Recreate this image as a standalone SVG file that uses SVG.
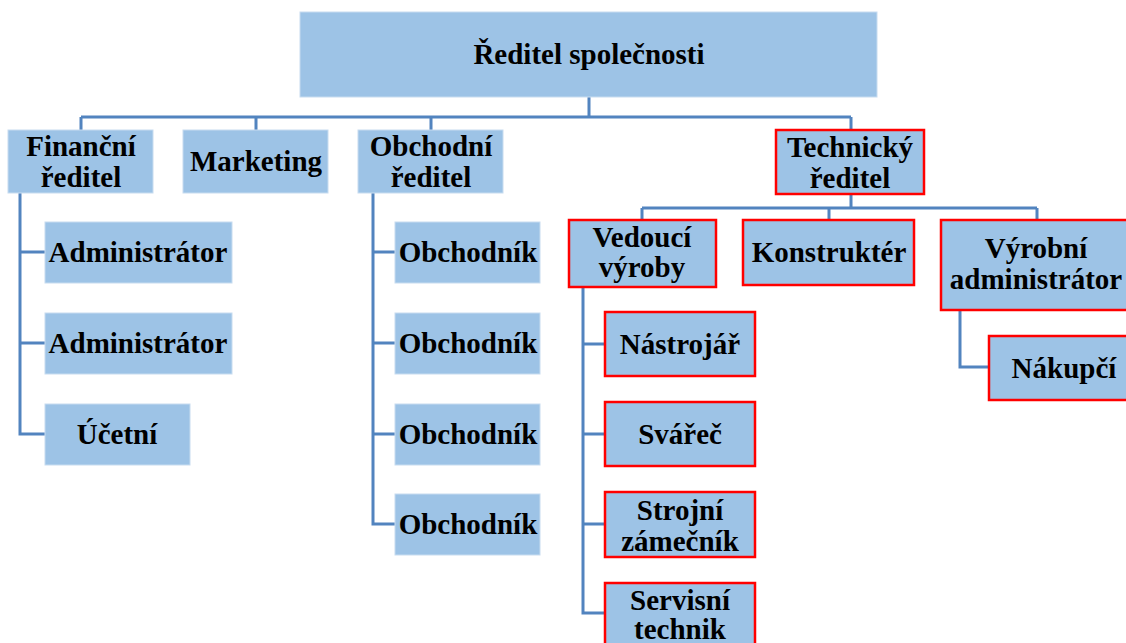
<svg xmlns="http://www.w3.org/2000/svg" width="1126" height="643" viewBox="0 0 1126 643">
<style>
.box{fill:#9dc3e6;stroke:#c7dcf0;stroke-width:1}
.rbox{fill:#9dc3e6;stroke:#ff0000;stroke-width:2.5}
text{font-family:'Liberation Serif','DejaVu Serif',serif;font-weight:bold;font-size:29px;fill:#000;text-anchor:middle}
.c{fill:none;stroke:#5284bf;stroke-width:3}
</style>
<rect width="1126" height="643" fill="#fff"/>
<g id="connectors">
<path class="c" d="M589 97V117M81 117H851M81 117V130M256 117V130M431 117V130M851 117V130"/>
<path class="c" d="M20 193V434H45M20 252H45M20 343H45"/>
<path class="c" d="M373 193V524H395M373 252H395M373 343H395M373 434H395"/>
<path class="c" d="M851 194V208M642 208H1037M642 208V220M829 208V220M1037 208V220"/>
<path class="c" d="M583 287V613H605M583 344H605M583 434H605M583 524H605"/>
<path class="c" d="M960 310V367H989"/>
</g>
<g id="n-reditel"><rect class="box" x="300" y="12" width="577" height="85"/><text x="589" y="64">Ředitel společnosti</text></g>
<g id="n-financni"><rect class="box" x="8" y="130" width="145" height="63"/><text x="81" y="156">Finanční</text><text x="81" y="187">ředitel</text></g>
<g id="n-marketing"><rect class="box" x="183" y="130" width="145" height="63"/><text x="256" y="171">Marketing</text></g>
<g id="n-obchodni"><rect class="box" x="358" y="130" width="145" height="63"/><text x="431" y="156">Obchodní</text><text x="431" y="187">ředitel</text></g>
<g id="n-technicky"><rect class="rbox" x="776" y="130" width="148" height="64"/><text x="850" y="157">Technický</text><text x="850" y="188">ředitel</text></g>
<g id="n-admin1"><rect class="box" x="45" y="222" width="187" height="61"/><text x="138" y="262">Administrátor</text></g>
<g id="n-admin2"><rect class="box" x="45" y="313" width="187" height="61"/><text x="138" y="353">Administrátor</text></g>
<g id="n-ucetni"><rect class="box" x="45" y="404" width="145" height="61"/><text x="117" y="444">Účetní</text></g>
<g id="n-obch1"><rect class="box" x="395" y="222" width="145" height="61"/><text x="468" y="262">Obchodník</text></g>
<g id="n-obch2"><rect class="box" x="395" y="313" width="145" height="61"/><text x="468" y="353">Obchodník</text></g>
<g id="n-obch3"><rect class="box" x="395" y="404" width="145" height="61"/><text x="468" y="444">Obchodník</text></g>
<g id="n-obch4"><rect class="box" x="395" y="494" width="145" height="61"/><text x="468" y="534">Obchodník</text></g>
<g id="n-vedouci"><rect class="rbox" x="569" y="220" width="147" height="67"/><text x="642" y="247">Vedoucí</text><text x="642" y="277">výroby</text></g>
<g id="n-konstrukter"><rect class="rbox" x="743" y="220" width="171" height="65"/><text x="829" y="262">Konstruktér</text></g>
<g id="n-vyrobni"><rect class="rbox" x="941" y="220" width="187" height="90"/><text x="1036" y="258">Výrobní</text><text x="1036" y="289">administrátor</text></g>
<g id="n-nastrojar"><rect class="rbox" x="605" y="312" width="150" height="64"/><text x="680" y="354">Nástrojář</text></g>
<g id="n-svarec"><rect class="rbox" x="605" y="402" width="150" height="64"/><text x="680" y="444">Svářeč</text></g>
<g id="n-strojni"><rect class="rbox" x="605" y="492" width="150" height="65"/><text x="680" y="520">Strojní</text><text x="680" y="551">zámečník</text></g>
<g id="n-servisni"><rect class="rbox" x="605" y="583" width="150" height="66"/><text x="680" y="610">Servisní</text><text x="680" y="639">technik</text></g>
<g id="n-nakupci"><rect class="rbox" x="989" y="336" width="139" height="64"/><text x="1064" y="378">Nákupčí</text></g>
</svg>
